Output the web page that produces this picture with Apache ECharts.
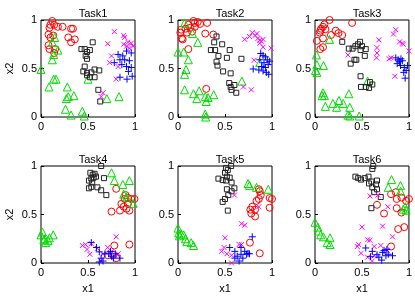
<!DOCTYPE html>
<html>
<head>
<meta charset="utf-8">
<script src="https://cdn.jsdelivr.net/npm/echarts@6/dist/echarts.min.js"></script>
<style>
  html, body { margin: 0; padding: 0; background: #fff; }
  #chart { width: 415px; height: 296px; }
</style>
</head>
<body>
<div id="chart"></div>
<script>
// one list per task (Task1..Task6) for each marker class
var taskNames = ['Task1', 'Task2', 'Task3', 'Task4', 'Task5', 'Task6'];
var ticks = [0, 0.5, 1];

var circles = [
  [[0.12,0.99],[0.10,0.95],[0.14,0.95],[0.09,0.92],[0.18,0.93],[0.23,0.93],[0.32,0.91],[0.34,0.91],[0.08,0.85],[0.10,0.82],[0.13,0.84],[0.29,0.82],[0.36,0.80],[0.32,0.77],[0.08,0.74],[0.09,0.70],[0.15,0.70],[0.14,0.66]],
  [[0.035,0.90],[0.025,0.87],[0.04,0.81],[0.05,0.80],[0.08,0.91],[0.11,0.95],[0.13,0.92],[0.165,0.99],[0.18,0.97],[0.21,0.98],[0.235,0.96],[0.31,0.97],[0.18,0.93],[0.29,0.86],[0.375,0.85],[0.11,0.70],[0.30,0.29],[0.095,0.87],[0.15,0.88]],
  [[0.02,0.785],[0.05,0.87],[0.065,0.91],[0.085,0.93],[0.10,0.955],[0.057,0.89],[0.11,0.905],[0.085,0.81],[0.155,1.0],[0.17,0.845],[0.22,0.89],[0.25,0.865],[0.29,0.845],[0.395,0.97],[0.057,0.70],[0.085,0.72]],
  [[0.80,0.765],[0.90,0.70],[0.925,0.67],[0.89,0.66],[0.96,0.66],[0.995,0.66],[0.855,0.61],[0.925,0.61],[0.88,0.58],[0.91,0.56],[0.94,0.54],[0.75,0.53],[0.84,0.54],[0.94,0.19],[0.78,0.18],[0.77,0.085],[0.71,0.08],[0.80,0.05]],
  [[0.86,0.76],[0.87,0.74],[0.88,0.70],[0.86,0.66],[0.835,0.64],[0.79,0.58],[0.77,0.55],[0.82,0.55],[0.78,0.51],[0.82,0.48],[0.975,0.67],[1.0,0.66],[0.975,0.57],[0.765,0.21],[0.87,0.10]],
  [[0.86,0.73],[0.87,0.66],[0.92,0.675],[0.97,0.64],[1.0,0.66],[0.87,0.565],[0.92,0.52],[0.95,0.37],[0.885,0.35],[0.735,0.51],[0.66,0.60],[0.81,0.17],[0.81,0.71]]
];

var triangles = [
  [[0.145,0.82],[0.12,0.77],[0.18,0.69],[0.135,0.645],[0.12,0.59],[0.0,0.49],[0.135,0.39],[0.16,0.39],[0.085,0.31],[0.28,0.31],[0.50,0.39],[0.35,0.22],[0.29,0.21],[0.27,0.19],[0.26,0.08],[0.32,0.02],[0.44,0.06],[0.46,0.01],[0.70,0.19],[0.83,0.21]],
  [[0.07,0.97],[0.155,0.86],[0.21,0.77],[0.0,0.67],[0.06,0.67],[0.11,0.59],[0.085,0.49],[0.07,0.44],[0.07,0.28],[0.165,0.24],[0.225,0.27],[0.20,0.19],[0.29,0.21],[0.32,0.20],[0.30,0.16],[0.38,0.23],[0.29,0.03],[0.295,0.0],[0.68,0.37],[0.87,0.56]],
  [[0.155,0.80],[0.015,0.64],[0.02,0.54],[0.09,0.53],[0.005,0.48],[0.02,0.46],[0.56,0.37],[0.085,0.25],[0.10,0.22],[0.075,0.22],[0.11,0.11],[0.19,0.14],[0.255,0.17],[0.23,0.10],[0.30,0.14],[0.36,0.24],[0.37,0.10],[0.35,0.02],[0.37,0.01],[0.47,0.01]],
  [[0.75,0.93],[0.78,0.85],[0.94,0.85],[0.87,0.81],[0.88,0.71],[0.91,0.68],[0.98,0.615],[0.015,0.32],[0.0,0.29],[0.04,0.25],[0.09,0.26],[0.13,0.29],[0.05,0.21],[0.075,0.23],[0.03,0.24]],
  [[0.745,0.82],[0.76,0.80],[0.835,0.78],[0.96,0.76],[0.0,0.36],[0.007,0.31],[0.035,0.30],[0.06,0.29],[0.08,0.25],[0.095,0.22],[0.14,0.21],[0.165,0.18],[0.015,0.28]],
  [[0.815,0.86],[0.91,0.80],[0.78,0.78],[0.91,0.74],[0.96,0.58],[0.97,0.545],[0.94,0.555],[0.0,0.42],[0.03,0.37],[0.04,0.33],[0.06,0.29],[0.09,0.27],[0.16,0.26],[0.13,0.21],[0.16,0.19]]
];

var squares = [
  [[0.55,0.77],[0.43,0.70],[0.465,0.70],[0.49,0.67],[0.52,0.69],[0.475,0.63],[0.49,0.60],[0.45,0.47],[0.49,0.455],[0.535,0.46],[0.57,0.49],[0.62,0.48],[0.52,0.41],[0.57,0.41],[0.49,0.43],[0.61,0.28],[0.63,0.16],[0.465,0.52]],
  [[0.41,0.83],[0.385,0.77],[0.35,0.69],[0.395,0.69],[0.47,0.75],[0.43,0.63],[0.41,0.57],[0.42,0.53],[0.48,0.47],[0.52,0.61],[0.55,0.69],[0.675,0.60],[0.56,0.45],[0.545,0.35],[0.56,0.31],[0.60,0.33],[0.62,0.25],[0.57,0.28]],
  [[0.29,0.775],[0.36,0.705],[0.40,0.705],[0.43,0.73],[0.457,0.75],[0.48,0.775],[0.50,0.73],[0.54,0.70],[0.485,0.69],[0.42,0.59],[0.44,0.59],[0.38,0.55],[0.53,0.63],[0.485,0.42],[0.49,0.31],[0.54,0.31],[0.575,0.30],[0.61,0.335],[0.585,0.36]],
  [[0.64,1.0],[0.525,0.93],[0.55,0.91],[0.57,0.92],[0.56,0.88],[0.535,0.87],[0.585,0.89],[0.51,0.85],[0.67,0.875],[0.51,0.77],[0.535,0.785],[0.60,0.78],[0.64,0.75],[0.695,0.70],[0.545,0.83]],
  [[0.565,1.0],[0.51,0.98],[0.53,0.96],[0.50,0.93],[0.52,0.89],[0.43,0.87],[0.475,0.855],[0.51,0.85],[0.55,0.88],[0.57,0.83],[0.60,0.77],[0.52,0.76],[0.57,0.74],[0.535,0.70],[0.475,0.63],[0.50,0.66],[0.53,0.54]],
  [[0.62,1.0],[0.61,0.97],[0.43,0.89],[0.46,0.875],[0.49,0.86],[0.53,0.875],[0.57,0.89],[0.60,0.84],[0.575,0.82],[0.66,0.85],[0.65,0.81],[0.61,0.78],[0.66,0.76],[0.70,0.68],[0.60,0.565],[0.63,0.73]]
];

var crosses = [
  [[0.78,0.88],[0.88,0.84],[0.89,0.82],[0.71,0.755],[0.88,0.75],[0.925,0.77],[0.96,0.76],[0.98,0.73],[0.91,0.73],[0.94,0.71],[0.75,0.63],[0.73,0.56],[0.82,0.52],[0.80,0.39],[0.66,0.25],[0.64,0.21]],
  [[0.79,0.87],[0.82,0.84],[0.76,0.83],[0.71,0.80],[0.85,0.81],[0.87,0.79],[0.89,0.78],[0.905,0.80],[0.84,0.86],[0.905,0.72],[0.99,0.71],[0.81,0.585],[0.695,0.31],[0.78,0.28],[0.87,0.76]],
  [[0.86,0.90],[0.835,0.855],[0.68,0.795],[0.90,0.775],[0.93,0.76],[0.94,0.75],[0.66,0.715],[0.35,0.64],[0.66,0.66],[0.655,0.61],[0.79,0.60],[0.81,0.61],[0.85,0.42],[1.0,0.68]],
  [[0.80,0.27],[0.44,0.18],[0.475,0.19],[0.535,0.20],[0.49,0.14],[0.52,0.09],[0.60,0.15],[0.66,0.095],[0.64,0.02],[0.71,0.16],[0.75,0.12],[0.82,0.095]],
  [[0.60,0.70],[0.86,0.58],[0.675,0.405],[0.71,0.39],[0.50,0.26],[0.675,0.19],[0.465,0.12],[0.52,0.095],[0.57,0.08],[0.57,0.0],[0.65,0.19],[0.49,0.16]],
  [[0.585,0.69],[0.67,0.70],[0.775,0.58],[0.50,0.37],[0.72,0.38],[0.825,0.27],[0.465,0.19],[0.45,0.17],[0.56,0.24],[0.585,0.235],[0.49,0.10],[0.63,0.17],[0.70,0.18],[0.56,0.06],[0.63,0.075],[0.61,0.02],[0.77,0.13]]
];

var pluses = [
  [[0.91,0.68],[0.96,0.66],[0.82,0.645],[0.87,0.63],[0.84,0.59],[0.89,0.59],[0.94,0.58],[0.78,0.56],[0.86,0.54],[0.91,0.52],[0.96,0.51],[0.93,0.47],[0.84,0.41],[0.915,0.39],[0.97,0.42]],
  [[0.88,0.655],[0.905,0.635],[0.93,0.62],[0.95,0.59],[0.87,0.59],[0.915,0.56],[0.96,0.54],[0.975,0.575],[0.80,0.495],[0.86,0.485],[0.905,0.475],[0.94,0.46],[0.965,0.44],[0.89,0.52],[0.93,0.51]],
  [[0.86,0.61],[0.885,0.59],[0.915,0.60],[0.93,0.58],[0.875,0.55],[0.91,0.53],[0.95,0.51],[0.97,0.48],[0.945,0.46],[0.985,0.53],[0.96,0.40],[0.90,0.57]],
  [[0.535,0.21],[0.59,0.16],[0.62,0.115],[0.64,0.05],[0.62,0.01],[0.68,0.095],[0.72,0.095],[0.75,0.07],[0.77,0.05],[0.79,0.095],[0.84,0.05],[0.66,0.02],[0.74,0.12]],
  [[0.79,0.27],[0.55,0.16],[0.605,0.12],[0.63,0.07],[0.67,0.09],[0.69,0.05],[0.73,0.09],[0.745,0.10],[0.65,0.02],[0.605,0.05],[0.71,0.12],[0.67,0.16],[0.76,0.095]],
  [[0.54,0.155],[0.61,0.12],[0.66,0.085],[0.68,0.06],[0.72,0.11],[0.735,0.13],[0.765,0.14],[0.755,0.075],[0.78,0.09],[0.71,0.03],[0.825,0.075],[0.59,0.065]]
];

var font = '"Liberation Sans", Arial, sans-serif';
var chart = echarts.init(document.getElementById('chart'), null, { renderer: 'canvas' });

var lefts = [41, 178, 315];
var tops = [20, 166];
var grids = [], xAxes = [], yAxes = [], titles = [], series = [];

var classes = [
  { data: circles, symbol: 'circle', size: 7, color: '#ff0000' },
  { data: triangles, symbol: 'triangle', size: 8, color: '#00dd00' },
  { data: squares, symbol: 'rect', size: 5, color: '#222222' },
  { data: crosses, symbol: 'path://M0,0L10,10M10,0L0,10', size: 5, color: '#ff00ff' },
  { data: pluses, symbol: 'path://M5,0L5,10M0,5L10,5', size: 7, color: '#0000ff' }
];

taskNames.forEach(function (name, i) {
  var col = i % 3, row = Math.floor(i / 3);
  grids.push({ left: lefts[col], top: tops[row], width: 94, height: 97, show: true, borderColor: '#000', borderWidth: 1, backgroundColor: '#fff' });
  titles.push({ text: name, left: lefts[col] + 47, top: tops[row] - 17, textAlign: 'center',
    textStyle: { fontFamily: font, fontSize: 11, fontWeight: 'normal', color: '#000' } });
  xAxes.push({
    gridIndex: i, type: 'value', min: 0, max: 1, interval: 0.5,
    name: row === 1 ? 'x1' : '', nameLocation: 'middle', nameGap: 20,
    nameTextStyle: { fontFamily: font, fontSize: 11, color: '#000' },
    axisLine: { show: false }, splitLine: { show: false },
    axisTick: { inside: true, length: 3, lineStyle: { color: '#000' } },
    axisLabel: { fontFamily: font, fontSize: 11, color: '#000', margin: 4,
      formatter: function (v) { return ticks.indexOf(v) >= 0 ? String(v) : ''; } }
  });
  yAxes.push({
    gridIndex: i, type: 'value', min: 0, max: 1, interval: 0.5,
    name: col === 0 ? 'x2' : '', nameLocation: 'middle', nameGap: 26,
    nameTextStyle: { fontFamily: font, fontSize: 11, color: '#000' },
    axisLine: { show: false }, splitLine: { show: false },
    axisTick: { inside: true, length: 3, lineStyle: { color: '#000' } },
    axisLabel: { fontFamily: font, fontSize: 11, color: '#000', margin: 4,
      formatter: function (v) { return ticks.indexOf(v) >= 0 ? String(v) : ''; } }
  });
  classes.forEach(function (c) {
    series.push({
      type: 'scatter', xAxisIndex: i, yAxisIndex: i,
      data: c.data[i], symbol: c.symbol, symbolSize: c.size,
      itemStyle: { color: 'transparent', borderColor: c.color, borderWidth: 1, opacity: 1 },
      emphasis: { disabled: true }
    });
  });
});

chart.setOption({
  animation: false,
  title: titles,
  grid: grids,
  xAxis: xAxes,
  yAxis: yAxes,
  series: series
});
</script>
</body>
</html>
